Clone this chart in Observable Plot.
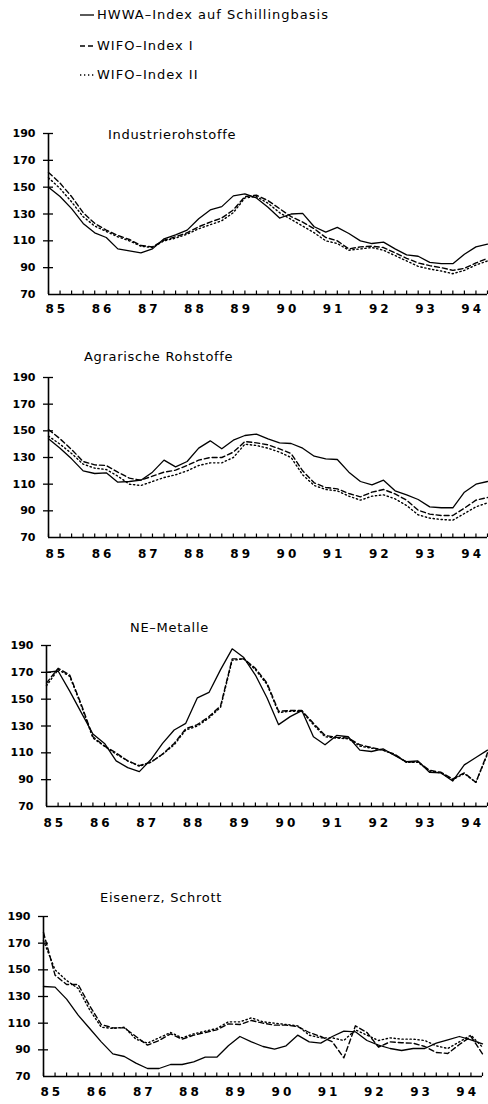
<!DOCTYPE html>
<html><head><meta charset="utf-8">
<script src="https://cdn.jsdelivr.net/npm/d3@7"></script>
<script src="https://cdn.jsdelivr.net/npm/@observablehq/plot@0.6"></script>
<style>
body{margin:0;background:#fff;}
#root{position:relative;width:488px;height:1104px;overflow:hidden;font-family:"DejaVu Sans",sans-serif;color:#000;}
.leg{position:absolute;left:80px;font-size:13px;line-height:16px;letter-spacing:1px;white-space:nowrap;display:flex;align-items:center;}
.leg svg{margin-right:3px;}
.title{position:absolute;font-size:13px;line-height:16px;letter-spacing:0.7px;z-index:2;white-space:nowrap;}
.panel{position:absolute;left:0;z-index:1;}
.panel svg g[aria-label="text"] text{letter-spacing:3px;}
</style></head><body><div id="root"></div>
<script>
// ---- data ----
const legendLabels = ["HWWA–Index auf Schillingbasis", "WIFO–Index I", "WIFO–Index II"];
const panelTitles = ["Industrierohstoffe", "Agrarische Rohstoffe", "NE–Metalle", "Eisenerz, Schrott"];
const yearLabels = [1985, 1986, 1987, 1988, 1989, 1990, 1991, 1992, 1993, 1994];
const yTickValues = [70, 90, 110, 130, 150, 170, 190];
const startYear = 1985; // quarterly observations from 1985 Q1 to 1994 Q3

// Industrierohstoffe
const ind_hwwa = [150,143,134,123,116,112.5,104,102.5,101,104,111.5,114.5,118,126.5,133,135.5,143.5,145,142,135,127,130,130.5,120.5,116.5,120,115.5,110,108,109,104,99.5,98.5,94,93,93,100,105.5,107.5];
const ind_wifo1 = [161,153,143,131,123,118,114,111,106.5,105.5,110.5,113,116,120.5,124,127,133,143,144,140,134,128,124,119,112.5,110,104,105.5,106,105,101,97,93.5,91.5,90,88,89.5,93.5,97];
const ind_wifo2 = [157,149,139,128,121,117,113,110,106,105,110,112,115,119,122,125,131,142,143,138,131,126,121,116,110,108,103,104,105,103,99,95,91,89,87.5,85.5,88,92,95];

// Agrarische Rohstoffe
const agr_hwwa = [144,137,129,120,118,118.5,111.5,112,113,119,128,123,127,137,142.5,136.5,143,146.5,147.5,144,141,140.5,137,131,129,128.5,119,112,109.5,113,105,102,98.5,93,92.3,92.3,104,110,112];
const agr_wifo1 = [151,144,136,127,124.5,124,119,114.5,113,116,119,120.5,124,128,130,130,134,142,141,139.5,136.5,133,120,111,107.5,106.5,103,100.5,104,106,102.7,98,90.5,87.5,86.5,86.5,92,98,100];
const agr_wifo2 = [146,140,133,125,122,121,116,110,109,112,115,117,120,124,126,126,130,140,139,137,134,130,117,109,106,105,101,98,101,102,99,94,87,84.5,83.5,83,88,93,96];

// NE-Metalle
const ne_hwwa = [170,171,156,140,124,117,104,99,96,105,117,127,132,151,155,172,187.5,181,168,151,131,137,141.5,122,116,123,122,112,111,113,108,103.5,104,95.5,95,89,101,106.5,112];
const ne_wifo1 = [162,173,168,146,122,115,110,104,100.5,103,109,117,128,131,137,145,180,180,173,162,141,141.5,141.5,132,123,121.5,121,116,114,112,109,103,103.5,97,95.5,90.5,95,88,110];
const ne_wifo2 = [160,172,167,145,121,115,109,104,100,103,109,116,127,130,136,144,179,180,172,161,140,141,141,131,122,121,120.5,115,113.5,112,108.5,103,103,96.5,95,90,94.5,88,109];

// Eisenerz, Schrott
const eis_hwwa = [137.5,137,128,116,106,96,87,85,80,76,76,79,79,81,84.5,84.5,93,100,96,92.5,90.5,93,101,96,95,100,104,103.5,97,93.5,91,89.5,91,91,95,97.5,100,97.5,94.5];
const eis_wifo1 = [178,146,139,139,123,109,106.5,106.5,100,93.5,97,102,98,101,103,105,109.5,109,112,110,108.5,108.5,107.5,103,100,96,84,108,103,92,96,95.3,95,92.5,88,87.3,94,100,87];
const eis_wifo2 = [172,150,142,136,120,107,106,107,98,95,99,103,99,102,104,106,111,111,114,111,110,109,108,101,99,99,97,105,101,97,99,98,98,97,93,91,96,101,92];

// ---- layout ----
const root = document.getElementById("root");
const dashes = ["none", "5,3", "1.3,2.7"];

// legend
const legTops = [7, 38, 67];
legendLabels.forEach((lab, i) => {
  const d = document.createElement("div");
  d.className = "leg";
  d.style.top = legTops[i] + "px";
  d.innerHTML = `<svg width="14" height="10"><line x1="0" x2="14" y1="5" y2="5" stroke="#000" stroke-width="1.3" stroke-dasharray="${dashes[i]}"/></svg><span>${lab}</span>`;
  root.appendChild(d);
});

const panels = [
  {title: panelTitles[0], series: [ind_hwwa, ind_wifo1, ind_wifo2], y190: 133, y70: 294, left: 48, right: 487, titleX: 108, titleY: 135, labDy: 18},
  {title: panelTitles[1], series: [agr_hwwa, agr_wifo1, agr_wifo2], y190: 377, y70: 537, left: 48, right: 487, titleX: 84, titleY: 357, labDy: 20},
  {title: panelTitles[2], series: [ne_hwwa, ne_wifo1, ne_wifo2], y190: 645, y70: 806, left: 46, right: 487, titleX: 130, titleY: 628, labDy: 20},
  {title: panelTitles[3], series: [eis_hwwa, eis_wifo1, eis_wifo2], y190: 916, y70: 1076, left: 43, right: 482, titleX: 100, titleY: 898, labDy: 19}
];

const endYear = startYear + (ind_hwwa.length - 1) / 4;
const quarterTicks = d3.range(ind_hwwa.length).map(i => startYear + i / 4);

panels.forEach(p => {
  const mt = 20, mb = 26;
  const h = mt + (p.y70 - p.y190) + mb;
  const rows = [];
  p.series.forEach((arr, s) => arr.forEach((v, i) => rows.push({s, t: startYear + i / 4, v})));
  const pxPerYear = (p.right - p.left) / (endYear - startYear);
  const halfTick = 5 / pxPerYear;
  const chart = Plot.plot({
    width: 488,
    height: h,
    marginTop: mt,
    marginBottom: mb,
    marginLeft: p.left,
    marginRight: 488 - p.right,
    x: {domain: [startYear, endYear], axis: null},
    y: {domain: [70, 190], axis: null},
    style: {background: "transparent", fontFamily: "DejaVu Sans, sans-serif", fontSize: "11px", fontWeight: "bold", overflow: "visible"},
    marks: [
      Plot.axisY(yTickValues.filter(v => v > 70).concat([70]), {tickSize: 0, tickPadding: 13, label: null, fontWeight: "bold"}),
      Plot.ruleY(yTickValues.filter(v => v > 70), {x1: startYear - halfTick, x2: startYear + halfTick, strokeWidth: 1.3}),
      Plot.ruleX([startYear], {y1: 70, y2: 190, strokeWidth: 1.6}),
      Plot.ruleY([70], {x1: startYear, x2: endYear, strokeWidth: 1.6}),
      Plot.ruleX(quarterTicks, {y1: 70, y2: 72.6, strokeWidth: 1.2}),
      Plot.text(yearLabels, {x: d => d + 0.18, text: d => String(d).slice(2), frameAnchor: "bottom", dy: p.labDy, fontSize: 12, fontWeight: "bold"}),
      Plot.lineY(rows.filter(r => r.s === 2), {x: "t", y: "v", stroke: "#000", strokeWidth: 1.4, strokeDasharray: dashes[2]}),
      Plot.lineY(rows.filter(r => r.s === 1), {x: "t", y: "v", stroke: "#000", strokeWidth: 1.4, strokeDasharray: dashes[1]}),
      Plot.lineY(rows.filter(r => r.s === 0), {x: "t", y: "v", stroke: "#000", strokeWidth: 1.3})
    ]
  });
  const wrap = document.createElement("div");
  wrap.className = "panel";
  wrap.style.top = (p.y190 - mt) + "px";
  wrap.appendChild(chart);
  root.appendChild(wrap);
  const t = document.createElement("div");
  t.className = "title";
  t.style.left = p.titleX + "px";
  t.style.top = (p.titleY - 8) + "px";
  t.textContent = p.title;
  root.appendChild(t);
});
</script></body></html>
